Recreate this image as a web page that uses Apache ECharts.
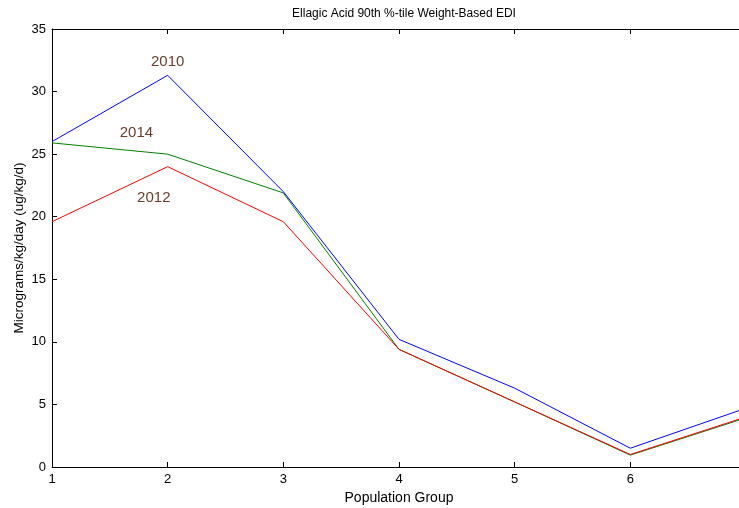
<!DOCTYPE html>
<html>
<head>
<meta charset="utf-8">
<script src="https://cdn.jsdelivr.net/npm/echarts@6/dist/echarts.min.js"></script>
<style>
  html, body { margin: 0; padding: 0; background: #fff; }
  #chart { width: 739px; height: 508px; }
</style>
</head>
<body>
<div id="chart"></div>
<script>
// population groups on the x axis
var groups = [1, 2, 3, 4, 5, 6, 7];
var yTicks = [0, 5, 10, 15, 20, 25, 30, 35];

// values
var edi2010 = [26.0, 31.3, 22.0, 10.2, 6.3, 1.5, 4.7];
var edi2012 = [19.6, 24.0, 19.6, 9.4, 5.2, 1.0, 4.0];
var edi2014 = [25.9, 25.0, 21.9, 9.4, 5.2, 0.95, 3.93];

// annotation text placed in data coords
var labels2010 = [[2.0, 32.4]];
var labels2014 = [[1.73, 26.7]];
var labels2012 = [[1.88, 21.5]];

var font = 'Liberation Sans, Arial, sans-serif';
var brown = '#6b3d2c';

function pairs(vals) {
  return groups.map(function (g, i) { return [g, vals[i]]; });
}

function tag(text, pos) {
  return {
    symbol: 'circle',
    symbolSize: 1,
    itemStyle: { color: 'rgba(0,0,0,0)' },
    label: {
      show: true,
      position: 'inside',
      formatter: text,
      color: brown,
      fontSize: 15,
      fontFamily: font
    },
    data: pos.map(function (p) { return { coord: p }; })
  };
}

var chart = echarts.init(document.getElementById('chart'));

var option = {
  animation: false,
  backgroundColor: '#fff',
  title: {
    text: 'Ellagic Acid 90th %-tile Weight-Based EDI',
    left: 399,
    textAlign: 'center',
    top: 3,
    textStyle: { fontSize: 12, fontWeight: 'normal', color: '#000', fontFamily: font }
  },
  grid: { left: 52, right: -7, top: 29, bottom: 41, outerBoundsMode: 'none', containLabel: false },
  xAxis: [{
    type: 'value',
    min: 1, max: 7, interval: 1,
    name: 'Population Group',
    nameLocation: 'middle',
    nameGap: 24,
    nameTextStyle: { fontSize: 14, color: '#000', fontFamily: font },
    axisLine: { show: true, lineStyle: { color: '#000', width: 1 } },
    axisTick: { show: true, inside: true, length: 5, lineStyle: { color: '#000' } },
    axisLabel: { fontSize: 13, color: '#000', fontFamily: font, margin: 6 },
    splitLine: { show: false }
  }, {
    type: 'value',
    position: 'top',
    min: 1, max: 7, interval: 1,
    axisLine: { show: true, lineStyle: { color: '#000', width: 1 } },
    axisTick: { show: true, inside: true, length: 5, lineStyle: { color: '#000' } },
    axisLabel: { show: false },
    splitLine: { show: false }
  }],
  yAxis: {
    type: 'value',
    min: yTicks[0], max: yTicks[yTicks.length - 1], interval: 5,
    name: 'Micrograms/kg/day (ug/kg/d)',
    nameLocation: 'middle',
    nameGap: 26,
    nameMoveOverlap: false,
    nameTextStyle: { fontSize: 13.5, color: '#000', fontFamily: font },
    axisLine: { show: true, lineStyle: { color: '#000', width: 1 } },
    axisTick: { show: true, inside: true, length: 5, lineStyle: { color: '#000' } },
    axisLabel: { fontSize: 13, color: '#000', fontFamily: font, margin: 6 },
    splitLine: { show: false }
  },
  series: [{
    name: '2014', type: 'line', data: pairs(edi2014),
    showSymbol: false, lineStyle: { color: '#008000', width: 1 },
    itemStyle: { color: '#008000' },
    markPoint: tag('2014', labels2014)
  }, {
    name: '2012', type: 'line', data: pairs(edi2012),
    showSymbol: false, lineStyle: { color: '#ff0000', width: 1 },
    itemStyle: { color: '#ff0000' },
    markPoint: tag('2012', labels2012)
  }, {
    name: '2010', type: 'line', data: pairs(edi2010),
    showSymbol: false, lineStyle: { color: '#0000ff', width: 1 },
    itemStyle: { color: '#0000ff' },
    markPoint: tag('2010', labels2010)
  }]
};

chart.setOption(option);
</script>
</body>
</html>
